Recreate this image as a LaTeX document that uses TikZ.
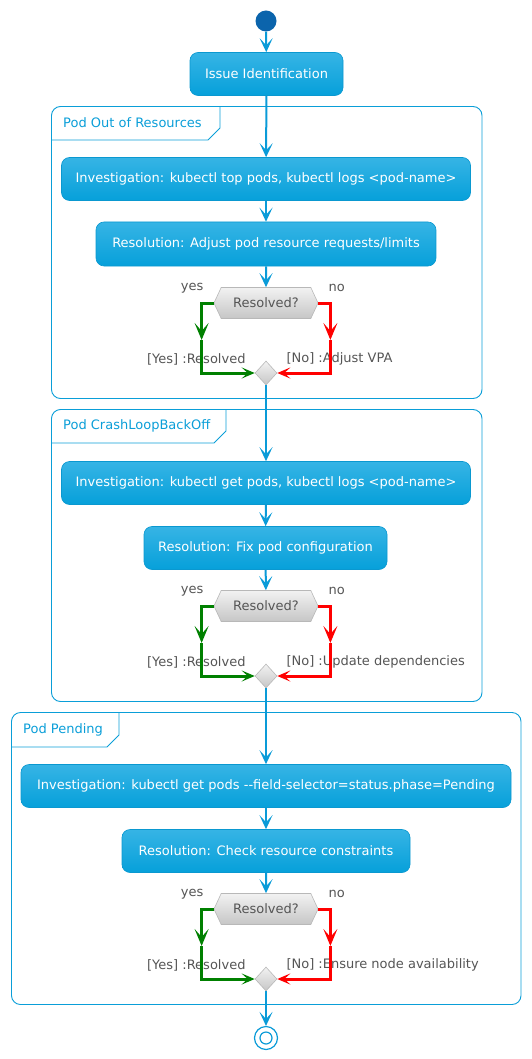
\documentclass[tikz,border=0pt]{standalone}
\usepackage{fontspec}
\setmainfont{DejaVu Sans}
\usetikzlibrary{arrows.meta,shapes.geometric,shapes.symbols,calc}
\definecolor{flow}{HTML}{0A9BD8}
\definecolor{boxtop}{HTML}{36B4E5}
\definecolor{boxbot}{HTML}{06A0DA}
\definecolor{boxline}{HTML}{0A98D0}
\definecolor{startc}{HTML}{0B64AC}
\definecolor{frame}{HTML}{0A9ED8}
\definecolor{lbl}{HTML}{555555}
\definecolor{hextop}{HTML}{F2F2F2}
\definecolor{hexbot}{HTML}{C6C6C6}
\definecolor{hexline}{HTML}{B8B8B8}
\definecolor{yesc}{HTML}{008000}
\definecolor{noc}{HTML}{FF0000}
\tikzset{
  flowline/.style={draw=flow, line width=2pt, -{Stealth[length=14pt,width=13pt,inset=7pt]}},
  yesline/.style={draw=yesc, line width=3pt, -{Stealth[length=17pt,width=14pt,inset=8pt]}},
  noline/.style={draw=noc, line width=3pt, -{Stealth[length=17pt,width=14pt,inset=8pt]}},
  yesend/.style={draw=yesc, line width=3pt, -{Stealth[length=13pt,width=11pt,inset=6pt]}},
  noend/.style={draw=noc, line width=3pt, -{Stealth[length=13pt,width=11pt,inset=6pt]}},
  act/.style={rounded corners=8pt, draw=boxline, line width=0.6pt, top color=boxtop, bottom color=boxbot, text=white, minimum height=43pt, inner sep=0pt},
  dec/.style={signal, signal to=east and west, signal pointer angle=130, draw=hexline, line width=0.6pt, top color=hextop, bottom color=hexbot, text=lbl, minimum width=104pt, minimum height=31pt, inner xsep=12pt, inner ysep=0pt},
  merge/.style={diamond, draw=hexline, line width=0.6pt, top color=hextop, bottom color=hexbot, minimum width=22pt, minimum height=24pt, inner sep=0pt},
  frm/.style={draw=frame, line width=0.9pt},
  grouptitle/.style={text=frame, anchor=west, inner sep=0pt},
  lab/.style={text=lbl, inner sep=0pt},
}
\begin{document}
\begin{tikzpicture}[x=1pt,y=-1pt, font=\fontsize{13}{15}\selectfont]
\useasboundingbox (0,0) rectangle (531,1059);
% frames
\draw[frm, rounded corners=9pt] (51.5,106.5) rectangle (482,398.5);
\draw[frm] (51.5,140) -- (208,140) -- (220,128) -- (220,106.5);
\node[grouptitle] (t1) at (63,123) {Pod Out of Resources};
\draw[frm, rounded corners=9pt] (51.5,409.5) rectangle (482,701.5);
\draw[frm] (51.5,443) -- (214,443) -- (226,431) -- (226,409.5);
\node[grouptitle] (t2) at (63,426) {Pod CrashLoopBackOff};
\draw[frm, rounded corners=9pt] (11.5,712.5) rectangle (521,1004.5);
\draw[frm] (11.5,747) -- (107,747) -- (119,735) -- (119,712.5);
\node[grouptitle] (t3) at (23,730) {Pod Pending};
% nodes
\node[circle, fill=startc, minimum size=21pt, inner sep=0pt] (start) at (266,21) {};
\node[act, minimum width=153pt] (b0) at (266.5,74) {Issue Identification};
\node[act, minimum width=409pt] (g1i) at (266,179) {Investigation: kubectl top pods, kubectl logs <pod-name>};
\node[act, minimum width=340pt, minimum height=44pt] (g1r) at (266,244) {Resolution: Adjust pod resource requests/limits};
\node[dec] (d1) at (266,303) {Resolved?};
\node[merge] (m1) at (266,373) {};
\node[act, minimum width=409pt] (g2i) at (266,483) {Investigation: kubectl get pods, kubectl logs <pod-name>};
\node[act, minimum width=243pt] (g2r) at (265.5,548) {Resolution: Fix pod configuration};
\node[dec] (d2) at (266,606) {Resolved?};
\node[merge] (m2) at (266,676) {};
\node[act, minimum width=490pt] (g3i) at (266,786) {Investigation: kubectl get pods -{}-field-selector=status.phase=Pending};
\node[act, minimum width=288pt] (g3r) at (266,851) {Resolution: Check resource constraints};
\node[dec] (d3) at (266,909) {Resolved?};
\node[merge] (m3) at (266,979) {};
\node[circle, draw=flow, line width=1.2pt, minimum size=23pt, inner sep=0pt] (end) at (266,1038) {};
\node[circle, draw=flow, line width=1.2pt, minimum size=12pt, inner sep=0pt] (endin) at (266,1038) {};
% labels
\foreach \d/\m/\nt in {d1/m1/{[No] :Adjust VPA}, d2/m2/{[No] :Update dependencies}, d3/m3/{[No] :Ensure node availability}}{
  \node[lab, anchor=east] (yl-\d) at ($(\d.west)+(-10,-15)$) {yes};
  \node[lab, anchor=west] (nl-\d) at ($(\d.east)+(10,-15)$) {no};
  \node[lab, anchor=east] (yr-\d) at ($(\m.west)+(-9,-14)$) {[Yes] :Resolved};
  \node[lab, anchor=west] (nr-\d) at ($(\m.east)+(9,-14)$) {\nt};
  \coordinate (yc-\d) at ($(\d.west)+(-12,37)$);
  \coordinate (nc-\d) at ($(\d.east)+(12,37)$);
  \draw[yesline] (\d.west) -| (yc-\d);
  \draw[yesend] (yc-\d) |- (\m.west);
  \draw[noline] (\d.east) -| (nc-\d);
  \draw[noend] (nc-\d) |- (\m.east);
}
% flow
\draw[flowline] (start) -- (b0);
\draw[flowline] (b0) -- (g1i);
\draw[flowline] (g1i) -- (g1r);
\draw[flowline] (g1r) -- (d1);
\draw[flowline] (m1) -- (g2i);
\draw[flowline] (g2i) -- (g2r);
\draw[flowline] (g2r) -- (d2);
\draw[flowline] (m2) -- (g3i);
\draw[flowline] (g3i) -- (g3r);
\draw[flowline] (g3r) -- (d3);
\draw[flowline] (m3) -- (end);
\end{tikzpicture}
\end{document}
